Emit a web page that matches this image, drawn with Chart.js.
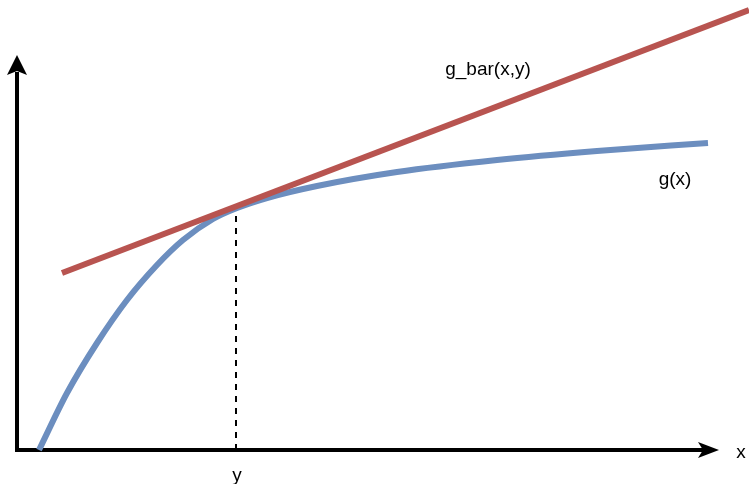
<!DOCTYPE html>
<html>
<head>
<meta charset="utf-8">
<script src="https://cdn.jsdelivr.net/npm/chart.js@4.4.1/dist/chart.umd.min.js"></script>
<style>
  html, body { margin: 0; padding: 0; background: #ffffff; }
  #wrap { width: 749px; height: 484px; }
</style>
</head>
<body>
<div id="wrap"><canvas id="c" width="749" height="484"></canvas></div>
<script>
// Curve g(x): sample points (x, y in axis units, origin at axis corner)
const gX = [22, 50, 80, 110, 140, 166, 196, 220, 250, 300, 380, 480, 580, 691];
const gY = [0, 57, 107, 150, 185, 210, 231, 242, 252, 264, 278, 290, 299, 307];
// Tangent line g_bar(x,y)
const barX = [45, 732];
const barY = [177, 440];
// Tangent point y
const tangentX = 219;
const tangentY = 241;
// Axis extents
const axisXEnd = 686;
const axisYEnd = 378;
const arrowXTip = 702;
const arrowYTip = 395;
// Labels
const labels = [
  { text: 'g_bar(x,y)', x: 471, y: 375 },
  { text: 'g(x)', x: 658, y: 265 },
  { text: 'x', x: 724, y: -8 },
  { text: 'y', x: 220, y: -31 }
];

const toPts = (xs, ys) => xs.map((x, i) => ({ x: x, y: ys[i] }));

const overlay = {
  id: 'overlay',
  afterDatasetsDraw(chart) {
    const ctx = chart.ctx;
    const sx = chart.scales.x, sy = chart.scales.y;
    const px = v => sx.getPixelForValue(v);
    const py = v => sy.getPixelForValue(v);
    ctx.save();
    ctx.fillStyle = '#000000';
    // horizontal arrow head
    const ox = px(0), oy = py(0);
    const hx = px(arrowXTip);
    ctx.beginPath();
    ctx.moveTo(hx, oy);
    ctx.lineTo(hx - 21, oy - 8);
    ctx.lineTo(hx - 16, oy);
    ctx.lineTo(hx - 21, oy + 8);
    ctx.closePath();
    ctx.fill();
    // vertical arrow head
    const vy = py(arrowYTip);
    ctx.beginPath();
    ctx.moveTo(ox, vy);
    ctx.lineTo(ox - 10, vy + 20);
    ctx.lineTo(ox, vy + 16);
    ctx.lineTo(ox + 10, vy + 20);
    ctx.closePath();
    ctx.fill();
    // labels
    ctx.font = '19px "Liberation Sans", Arial, Helvetica, sans-serif';
    ctx.textAlign = 'center';
    ctx.textBaseline = 'alphabetic';
    ctx.fillStyle = '#000000';
    labels.forEach(l => ctx.fillText(l.text, px(l.x), py(l.y)));
    ctx.restore();
  }
};

new Chart(document.getElementById('c'), {
  type: 'scatter',
  data: {
    datasets: [
      {
        label: 'g_bar(x,y)',
        data: toPts(barX, barY),
        showLine: true,
        borderColor: '#B85450',
        borderWidth: 6,
        borderCapStyle: 'butt',
        pointRadius: 0,
        order: 0
      },
      {
        label: 'g(x)',
        data: toPts(gX, gY),
        showLine: true,
        borderColor: '#6C8EBF',
        borderWidth: 6,
        borderCapStyle: 'butt',
        cubicInterpolationMode: 'monotone',
        pointRadius: 0,
        order: 1
      },
      {
        label: 'y',
        data: [{ x: tangentX, y: 0 }, { x: tangentX, y: tangentY }],
        showLine: true,
        borderColor: '#000000',
        borderWidth: 2,
        borderDash: [6, 6],
        pointRadius: 0,
        order: 2
      },
      {
        label: 'axes',
        data: [{ x: 0, y: axisYEnd }, { x: 0, y: 0 }, { x: axisXEnd, y: 0 }],
        showLine: true,
        borderColor: '#000000',
        borderWidth: 4,
        borderJoinStyle: 'miter',
        borderCapStyle: 'butt',
        pointRadius: 0,
        order: 3
      }
    ]
  },
  options: {
    responsive: false,
    animation: false,
    events: [],
    layout: { padding: 0 },
    plugins: { legend: { display: false }, tooltip: { enabled: false } },
    scales: {
      x: { type: 'linear', min: -17, max: 732, display: false },
      y: { type: 'linear', min: -34, max: 450, display: false }
    }
  },
  plugins: [overlay]
});
</script>
</body>
</html>
